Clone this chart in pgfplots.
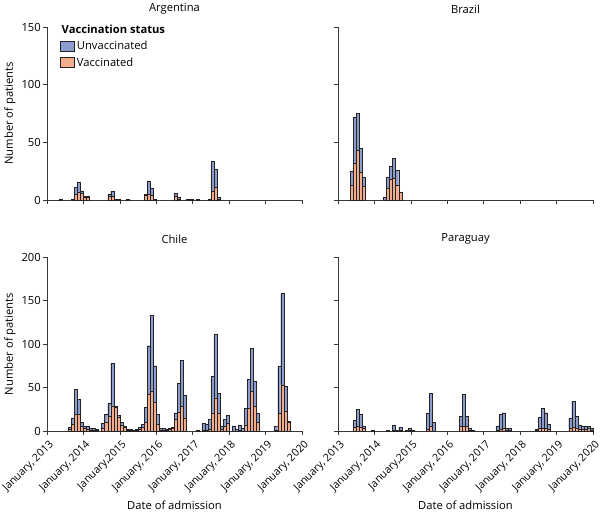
\documentclass[border=0pt]{standalone}
\usepackage{fontspec}
\setmainfont{Open Sans}
\usepackage{pgfplots}
\usepackage{pgfplotstable}
\pgfplotsset{compat=1.18}
\definecolor{unvac}{RGB}{140,156,205}
\definecolor{vac}{RGB}{244,172,142}
\definecolor{axisgray}{RGB}{55,55,55}
\definecolor{barline}{RGB}{35,35,35}

% m = month index from January 2013 (0..83)
\pgfplotstableread{
m vac unvac
4 0 1
8 1 0
9 5 6
10 7 8
11 6 2
12 2 1
13 2 1
20 3 2
21 3 5
22 1 0
23 1 0
26 1 0
32 4 1
33 5 11
34 4 6
35 1 0
42 3 3
43 1 1
46 1 0
47 1 0
49 1 0
53 1 0
54 8 26
55 11 16
56 1 1
}\argtab

\pgfplotstableread{
m vac unvac
4 13 12
5 32 40
6 43 32
7 24 21
8 12 8
15 0 2
16 10 10
17 18 11
18 19 17
19 13 13
20 7 0
}\bratab

\pgfplotstableread{
m vac unvac
7 2 2
8 8 7
9 19 29
10 19 17
11 5 5
12 3 3
13 2 4
14 1 2
15 1 2
16 1 1
18 3 6
19 10 9
20 17 15
21 29 49
22 27 2
23 16 2
24 7 3
25 4 2
26 1 1
27 1 1
28 1 0
29 1 1
30 2 2
31 4 4
32 10 17
33 42 56
34 46 87
35 33 42
36 8 11
37 1 2
38 1 2
39 1 1
40 2 1
41 3 1
42 13 8
43 22 33
44 28 53
45 15 26
49 1 0
51 1 8
52 1 7
53 2 11
54 20 43
55 38 73
56 20 23
57 2 4
58 5 8
59 9 9
61 0 6
62 0 2
63 1 6
64 0 3
65 7 19
66 26 33
67 46 49
68 28 29
69 10 10
75 1 4
76 20 54
77 53 105
78 23 29
79 10 1
}\chitab

\pgfplotstableread{
m vac unvac
5 4 8
6 5 20
7 4 15
8 3 3
11 0 1
16 0 1
18 1 6
19 0 1
20 1 3
22 0 1
23 1 2
24 0 1
29 2 18
30 6 37
31 0 10
40 5 12
41 5 37
42 5 12
43 1 2
44 0 1
52 1 5
53 2 17
54 3 18
55 1 2
56 1 2
65 1 1
66 3 13
67 3 23
68 3 18
69 2 6
76 3 12
77 4 30
78 3 14
79 2 5
80 2 3
81 2 3
82 3 2
83 1 2
}\partab

\pgfplotsset{
  panel/.style={
    scale only axis,
    width=255pt,
    axis x line*=bottom,
    axis y line*=left,
    xmin=-0.5, xmax=83.5,
    xtick={-0.5,11.5,23.5,35.5,47.5,59.5,71.5,83.5},
    ymin=0,
    tick align=outside,
    major tick length=4pt,
    tick style={axisgray, line width=0.7pt},
    axis line style={axisgray, line width=0.8pt},
    ybar stacked,
    bar width=1,
    clip=false,
    /pgf/number format/assume math mode=true,
    title style={at={(axis description cs:0.5,1)}, anchor=center, yshift=12pt},
    yticklabel style={inner sep=2pt},
  },
  toprow/.style={height=173pt, ymax=150, ytick={0,50,100,150}, xticklabels={}},
  botrow/.style={height=174pt, ymax=200, ytick={0,50,100,150,200},
    xticklabels={{January, 2013},{January, 2014},{January,2015},{January, 2016},{January, 2017},{January, 2018},{January, 2019},{January, 2020}},
    xticklabel style={rotate=45, anchor=north east, inner sep=0pt, xshift=-2pt, yshift=-4pt,
      font=\fontsize{10.6}{12.7}\selectfont},
    xlabel={Date of admission},
    xlabel style={at={(axis description cs:0.5,0)}, anchor=center, yshift=-74pt},
  },
  leftcol/.style={ylabel={Number of patients},
    ylabel style={at={(axis description cs:-0.145,0.5)}, anchor=center}},
  rightcol/.style={yticklabels={}},
  vacbar/.style={fill=vac, draw=barline, line width=0.4pt},
  unvacbar/.style={fill=unvac, draw=barline, line width=0.4pt},
}

\begin{document}
\fontsize{11.2}{13.4}\selectfont
\begin{tikzpicture}
\path[use as bounding box] (0pt,0pt) rectangle (600pt,519pt);

% Argentina
\begin{axis}[panel, toprow, leftcol, at={(47pt,319pt)}, anchor=south west,
  title={Argentina},
  reverse legend,
  legend cell align=left,
  legend style={at={(axis description cs:0.052,0.93)}, anchor=north west,
    draw=none, fill=none, inner sep=0pt, row sep=2pt,
    nodes={inner sep=2pt}}]
\addplot[vacbar, legend image code/.code={\draw[fill=vac, draw=barline, line width=0.5pt] (0pt,-5pt) rectangle (14pt,5pt);}] table[x=m, y=vac]{\argtab};
\addlegendentry{Vaccinated}
\addplot[unvacbar, legend image code/.code={\draw[fill=unvac, draw=barline, line width=0.5pt] (0pt,-5pt) rectangle (14pt,5pt);}] table[x=m, y=unvac]{\argtab};
\addlegendentry{Unvaccinated}
\node[anchor=west, font=\bfseries, inner sep=0pt] at (axis description cs:0.057,0.985) {Vaccination status};
\end{axis}

% Brazil
\begin{axis}[panel, toprow, rightcol, at={(338pt,319pt)}, anchor=south west,
  title={Brazil}]
\addplot[vacbar] table[x=m, y=vac]{\bratab};
\addplot[unvacbar] table[x=m, y=unvac]{\bratab};
\end{axis}

% Chile
\begin{axis}[panel, botrow, leftcol, at={(47pt,88pt)}, anchor=south west,
  title={Chile}]
\addplot[vacbar] table[x=m, y=vac]{\chitab};
\addplot[unvacbar] table[x=m, y=unvac]{\chitab};
\end{axis}

% Paraguay
\begin{axis}[panel, botrow, rightcol, at={(338pt,88pt)}, anchor=south west,
  title={Paraguay}]
\addplot[vacbar] table[x=m, y=vac]{\partab};
\addplot[unvacbar] table[x=m, y=unvac]{\partab};
\end{axis}
\end{tikzpicture}
\end{document}
